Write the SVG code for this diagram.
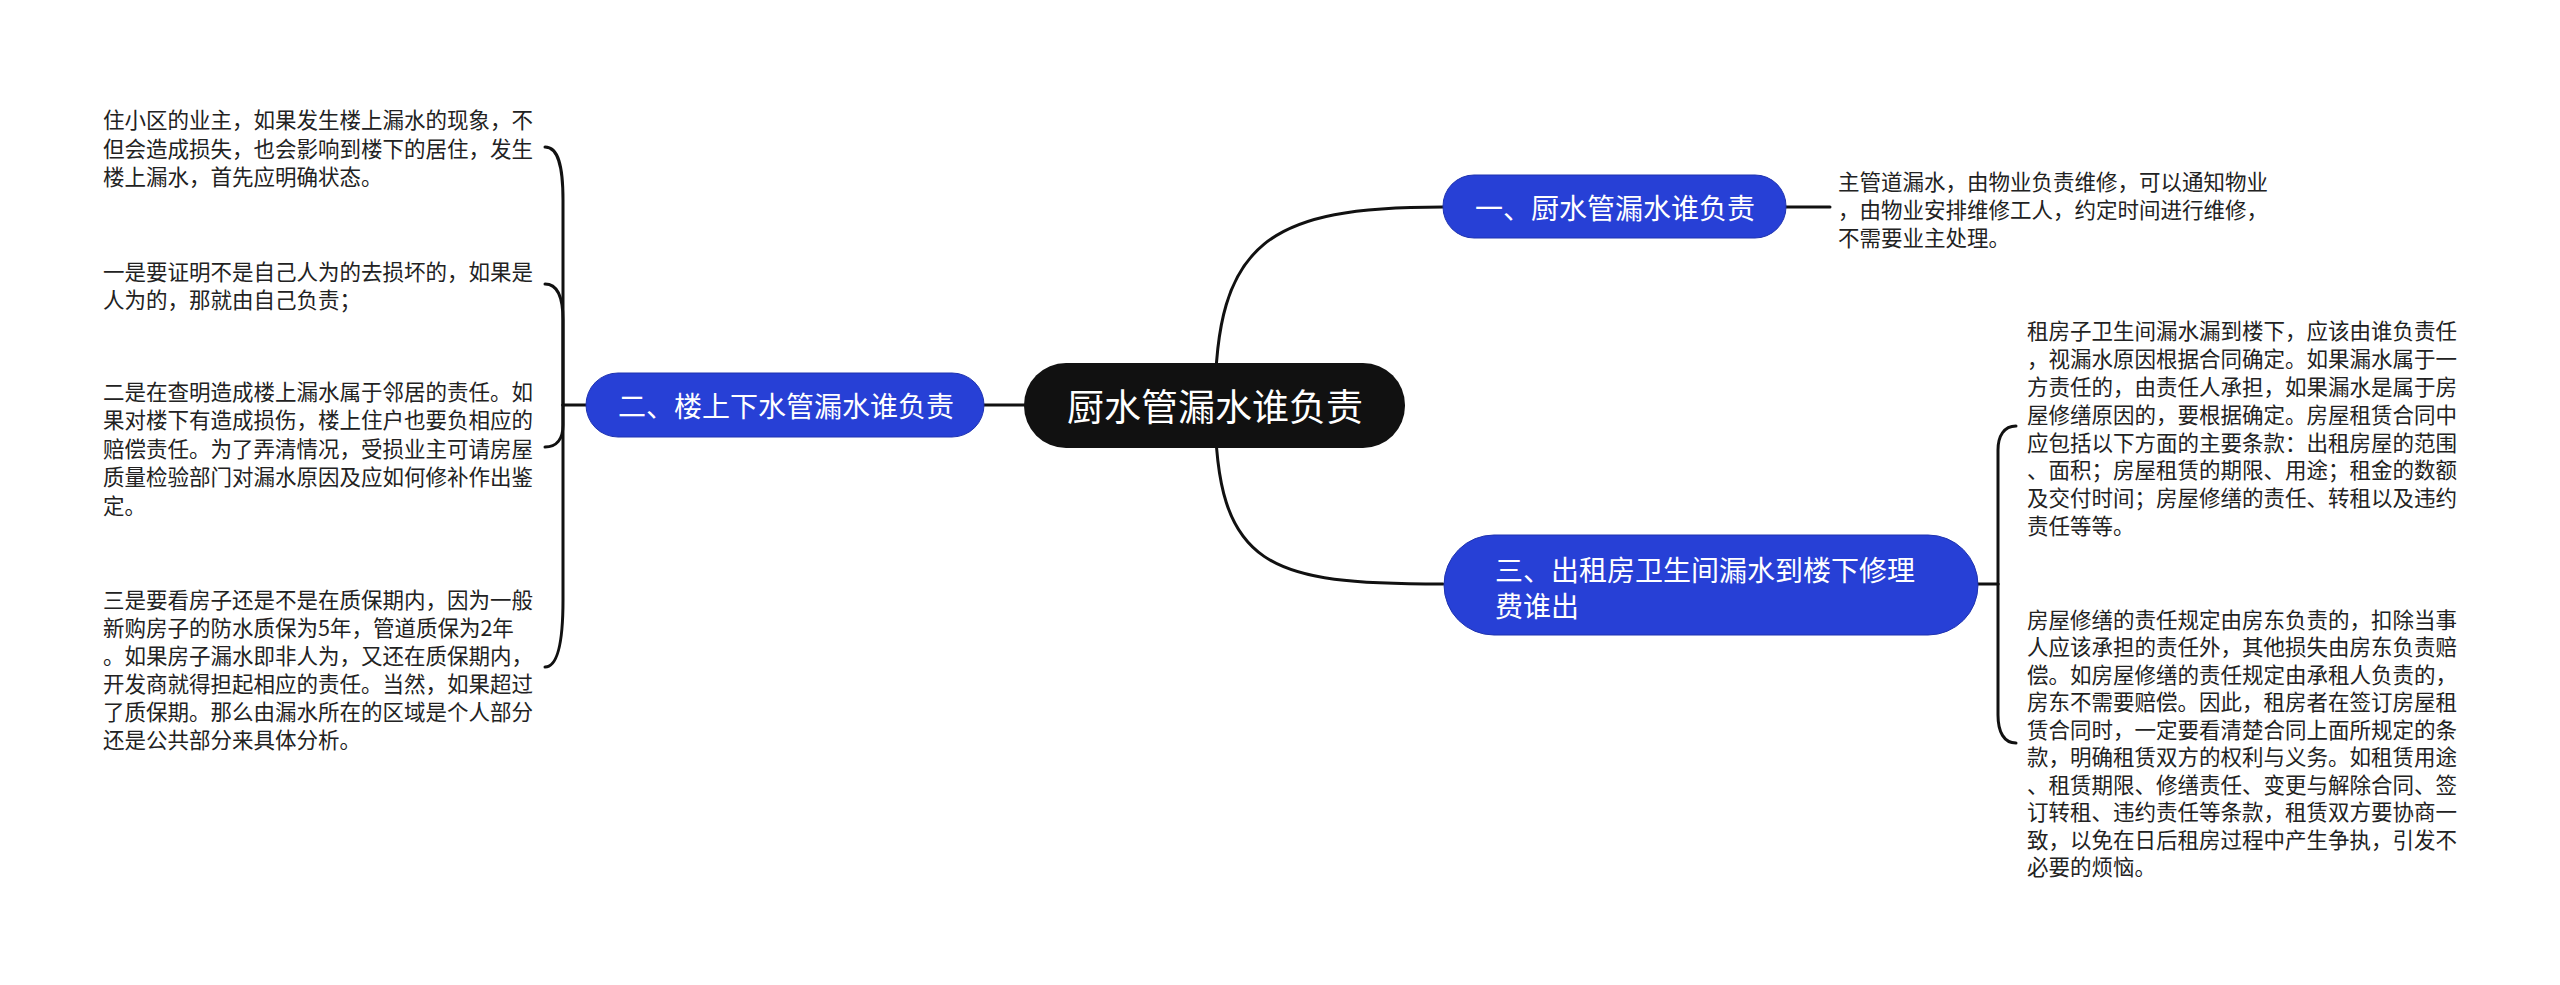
<svg xmlns="http://www.w3.org/2000/svg" width="2560" height="985" viewBox="0 0 2560 985">
<style>
.t{font-family:"Noto Sans CJK SC","Noto Sans",sans-serif;dominant-baseline:central}
.leaf{font-size:21.5px;fill:#222}
.lab{font-size:28px;fill:#fff}
.root{font-size:37px;fill:#fff}
.blue{fill:#2740d6;stroke:#1f33b0;stroke-width:1}
.c{fill:none;stroke:#111;stroke-width:3;stroke-linecap:round}
</style>
<rect width="2560" height="985" fill="#fff"/>
<g id="connectors">
<path class="c" d="M1215,405 C1215,240 1270,207 1443,207"/>
<path class="c" d="M1215,405 C1215,570 1270,584 1443,584"/>
<path class="c" d="M1024,405 L984,405"/>
<path class="c" d="M1786,207 L1830,207"/>
<path class="c" d="M586,405 L563,405"/>
<path class="c" d="M563,405 L563,200 C563,165 558,147 545,147"/>
<path class="c" d="M563,405 L563,320 C563,295 557,284 545,284"/>
<path class="c" d="M563,405 L563,425 C563,440 556,447 545,447"/>
<path class="c" d="M563,405 L563,600 C563,645 557,667 545,667"/>
<path class="c" d="M1978,584 L1998,584"/>
<path class="c" d="M1998,584 L1998,450 C1998,436 2004,426 2016,426"/>
<path class="c" d="M1998,584 L1998,715 C1998,732 2004,743 2016,743"/>
</g>
<g id="root">
<rect x="1024" y="363" width="381" height="85" rx="42" fill="#111"/>
<text class="t root" x="1215" y="405" text-anchor="middle">厨水管漏水谁负责</text>
</g>
<g id="n1">
<rect class="blue" x="1443" y="175" width="343" height="63" rx="31"/>
<text class="t lab" x="1475" y="207">一、厨水管漏水谁负责</text>
</g>
<g id="n2">
<rect class="blue" x="586" y="373" width="398" height="64" rx="32"/>
<text class="t lab" x="618" y="405">二、楼上下水管漏水谁负责</text>
</g>
<g id="n3">
<rect class="blue" x="1444" y="535" width="534" height="100" rx="50"/>
<text class="t lab" x="1495" y="569">三、出租房卫生间漏水到楼下修理</text>
<text class="t lab" x="1495" y="605">费谁出</text>
</g>
<g id="leaf-r1">
<text class="t leaf" x="1838" y="180">主管道漏水，由物业负责维修，可以通知物业</text>
<text class="t leaf" x="1838" y="208">，由物业安排维修工人，约定时间进行维修，</text>
<text class="t leaf" x="1838" y="236">不需要业主处理。</text>
</g>
<g id="leaf-r2">
<text class="t leaf" x="2027" y="329">租房子卫生间漏水漏到楼下，应该由谁负责任</text>
<text class="t leaf" x="2027" y="357">，视漏水原因根据合同确定。如果漏水属于一</text>
<text class="t leaf" x="2027" y="385">方责任的，由责任人承担，如果漏水是属于房</text>
<text class="t leaf" x="2027" y="413">屋修缮原因的，要根据确定。房屋租赁合同中</text>
<text class="t leaf" x="2027" y="441">应包括以下方面的主要条款：出租房屋的范围</text>
<text class="t leaf" x="2027" y="468">、面积；房屋租赁的期限、用途；租金的数额</text>
<text class="t leaf" x="2027" y="496">及交付时间；房屋修缮的责任、转租以及违约</text>
<text class="t leaf" x="2027" y="524">责任等等。</text>
</g>
<g id="leaf-r3">
<text class="t leaf" x="2027" y="618">房屋修缮的责任规定由房东负责的，扣除当事</text>
<text class="t leaf" x="2027" y="645.5">人应该承担的责任外，其他损失由房东负责赔</text>
<text class="t leaf" x="2027" y="673">偿。如房屋修缮的责任规定由承租人负责的，</text>
<text class="t leaf" x="2027" y="700.5">房东不需要赔偿。因此，租房者在签订房屋租</text>
<text class="t leaf" x="2027" y="728">赁合同时，一定要看清楚合同上面所规定的条</text>
<text class="t leaf" x="2027" y="755.5">款，明确租赁双方的权利与义务。如租赁用途</text>
<text class="t leaf" x="2027" y="783">、租赁期限、修缮责任、变更与解除合同、签</text>
<text class="t leaf" x="2027" y="810.5">订转租、违约责任等条款，租赁双方要协商一</text>
<text class="t leaf" x="2027" y="838">致，以免在日后租房过程中产生争执，引发不</text>
<text class="t leaf" x="2027" y="865.5">必要的烦恼。</text>
</g>
<g id="leaf-l1">
<text class="t leaf" x="103" y="118">住小区的业主，如果发生楼上漏水的现象，不</text>
<text class="t leaf" x="103" y="147">但会造成损失，也会影响到楼下的居住，发生</text>
<text class="t leaf" x="103" y="175">楼上漏水，首先应明确状态。</text>
</g>
<g id="leaf-l2">
<text class="t leaf" x="103" y="270">一是要证明不是自己人为的去损坏的，如果是</text>
<text class="t leaf" x="103" y="298">人为的，那就由自己负责；</text>
</g>
<g id="leaf-l3">
<text class="t leaf" x="103" y="390">二是在查明造成楼上漏水属于邻居的责任。如</text>
<text class="t leaf" x="103" y="418.5">果对楼下有造成损伤，楼上住户也要负相应的</text>
<text class="t leaf" x="103" y="447">赔偿责任。为了弄清情况，受损业主可请房屋</text>
<text class="t leaf" x="103" y="475.5">质量检验部门对漏水原因及应如何修补作出鉴</text>
<text class="t leaf" x="103" y="504">定。</text>
</g>
<g id="leaf-l4">
<text class="t leaf" x="103" y="598">三是要看房子还是不是在质保期内，因为一般</text>
<text class="t leaf" x="103" y="626">新购房子的防水质保为5年，管道质保为2年</text>
<text class="t leaf" x="103" y="654">。如果房子漏水即非人为，又还在质保期内，</text>
<text class="t leaf" x="103" y="682">开发商就得担起相应的责任。当然，如果超过</text>
<text class="t leaf" x="103" y="710">了质保期。那么由漏水所在的区域是个人部分</text>
<text class="t leaf" x="103" y="738">还是公共部分来具体分析。</text>
</g>
</svg>
